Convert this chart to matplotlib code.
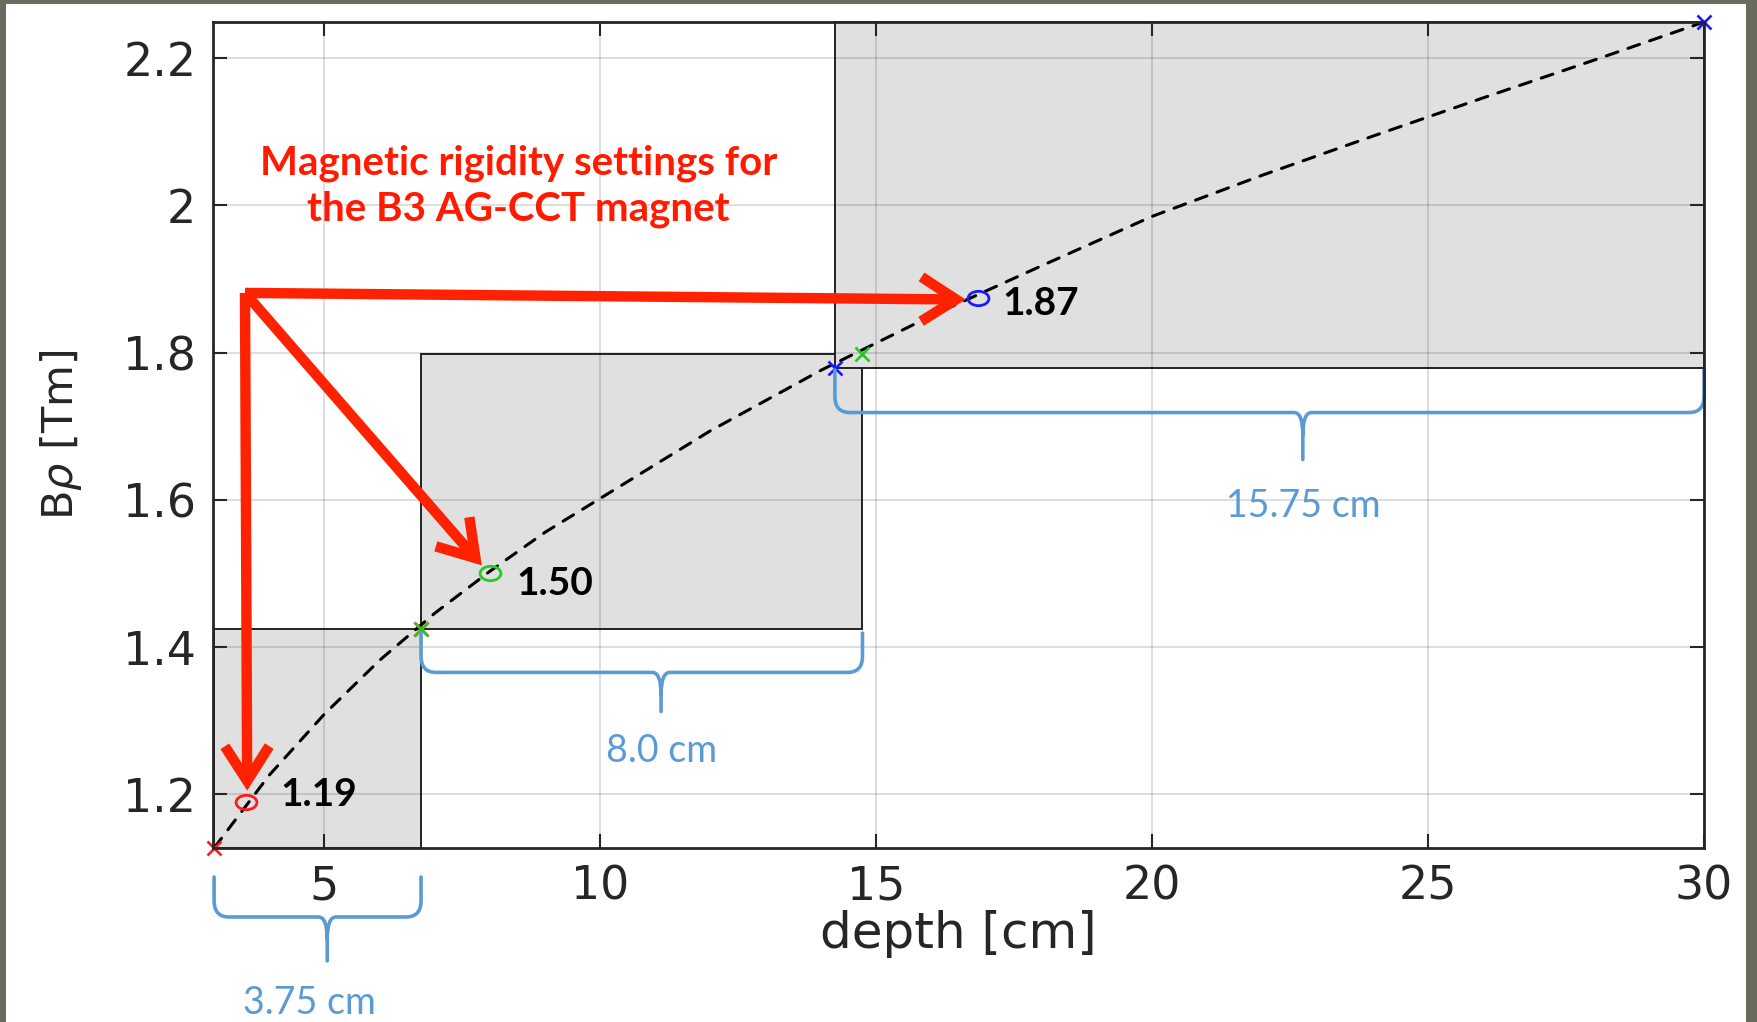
import matplotlib
matplotlib.use("Agg")
import matplotlib.pyplot as plt
from matplotlib.patches import Rectangle, PathPatch
from matplotlib.path import Path
from matplotlib.markers import MarkerStyle
from matplotlib.transforms import Affine2D

# ---------------- data ----------------
depth = [3, 4, 5, 6, 7, 8, 9, 10, 12, 14, 16, 18, 20, 22, 24, 26, 28, 30]
brho = [1.127, 1.226, 1.309, 1.382, 1.446, 1.503, 1.556, 1.602, 1.694, 1.776,
        1.850, 1.918, 1.985, 2.041, 2.094, 2.146, 2.197, 2.249]

box_x0 = [3.0, 6.75, 14.25]
box_x1 = [6.75, 14.75, 30.0]
box_y0 = [1.127, 1.425, 1.779]
box_y1 = [1.425, 1.798, 2.249]
box_colors = ["#ff1a1a", "#22cc22", "#1a1aff"]
box_len_labels = ["3.75 cm", "8.0 cm", "15.75 cm"]

set_x = [3.57, 8.0, 16.85]
set_y = [1.19, 1.50, 1.874]
set_labels = ["1.19", "1.50", "1.87"]
set_label_off = [(25, 5), (19, -7), (17, -4)]

arrow_origin = (3.56, 1.881)
arrow_end_x = [3.60, 7.85, 16.62]
arrow_end_y = [1.205, 1.511, 1.872]

brace_tip_x = [5.05, 11.10, 22.73]
brace_top = [1.0876, 1.4189, 1.7762]
brace_mid = [1.0333, 1.3655, 1.7185]
brace_tip = [0.9736, 1.3123, 1.6546]
brace_label_x = [4.72, 11.10, 22.73]
brace_label_y = [0.917, 1.259, 1.591]

xticks = [5, 10, 15, 20, 25, 30]
yticks = [1.2, 1.4, 1.6, 1.8, 2.0, 2.2]
yticklabels = ["1.2", "1.4", "1.6", "1.8", "2", "2.2"]

title_text = "Magnetic rigidity settings for\nthe B3 AG-CCT magnet"

# ---------------- figure ----------------
W, H = 1757, 1022
fig = plt.figure(figsize=(W / 100, H / 100), dpi=100)
fig.patch.set_facecolor("#6a6b5e")
fig.add_artist(Rectangle((6 / W, 0), (1746 - 6) / W, 1018 / H,
                         transform=fig.transFigure, facecolor="white",
                         edgecolor="none", zorder=-10))

ax = fig.add_axes([213 / W, 174 / H, (1704 - 213) / W, (1000 - 174) / H])
ax.set_facecolor("white")
ax.set_xlim(2.98, 30)
ax.set_ylim(1.127, 2.249)

# grey boxes
for x0, x1, y0, y1 in zip(box_x0, box_x1, box_y0, box_y1):
    ax.add_patch(Rectangle((x0, y0), x1 - x0, y1 - y0, facecolor="#e0e0e0",
                           edgecolor="#222222", lw=1.4, zorder=1, clip_on=False))

ax.set_axisbelow(False)
ax.grid(True, color="k", alpha=0.14, lw=1.3, zorder=2)

# curve
ax.plot(depth, brho, ls=(0, (4, 3.5)), color="k", lw=2.2, zorder=3,
        dash_capstyle="round")

# range edge markers
for x0, x1, y0, y1, c in zip(box_x0, box_x1, box_y0, box_y1, box_colors):
    ax.plot([x0, x1], [y0, y1], ls="none", marker="x", ms=10, mew=1.9,
            color=c, zorder=5, clip_on=False)

# elliptical circle markers
ell = MarkerStyle(Path.unit_circle().transformed(Affine2D().scale(1.45, 1.0)))
for x, y, c in zip(set_x, set_y, box_colors):
    ax.plot([x], [y], ls="none", marker=ell, ms=15, mfc="none", mec=c,
            mew=2.0, zorder=6)

# value labels
for x, y, lab, off in zip(set_x, set_y, set_labels, set_label_off):
    ax.annotate(lab, (x, y), xytext=off, textcoords="offset points",
                ha="left", va="center", fontsize=28, fontweight="bold",
                family="Lato", color="black", zorder=7)

# red arrows
for ex, ey in zip(arrow_end_x, arrow_end_y):
    ax.annotate("", xy=(ex, ey), xytext=arrow_origin,
                arrowprops=dict(arrowstyle="->,head_length=1.25,head_width=0.8",
                                mutation_scale=20, color="#ff2200", lw=7.5,
                                shrinkA=0, shrinkB=0, joinstyle="miter",
                                capstyle="butt"),
                zorder=8)

# title text
ax.text(8.52, 2.026, title_text, ha="center", va="center", color="#ff1a00",
        fontsize=29, fontweight="bold", family="Lato", linespacing=1.28,
        zorder=9)

# braces
brace_color = "#5b9bd5"
rx, ry = 0.27, 0.022
cx, cy = 0.16, 0.03
for x0, x1, xc, yt, ym, yp, lx, ly, lab in zip(
        box_x0, box_x1, brace_tip_x, brace_top, brace_mid, brace_tip,
        brace_label_x, brace_label_y, box_len_labels):
    verts = [(x0, yt), (x0, ym + ry), (x0, ym), (x0 + rx, ym),
             (xc - cx, ym), (xc, ym), (xc, ym - cy), (xc, yp),
             (xc, ym - cy), (xc, ym), (xc + cx, ym),
             (x1 - rx, ym), (x1, ym), (x1, ym + ry), (x1, yt)]
    codes = [Path.MOVETO, Path.LINETO, Path.CURVE3, Path.CURVE3,
             Path.LINETO, Path.CURVE3, Path.CURVE3, Path.LINETO,
             Path.MOVETO, Path.CURVE3, Path.CURVE3,
             Path.LINETO, Path.CURVE3, Path.CURVE3, Path.LINETO]
    ax.add_patch(PathPatch(Path(verts, codes), facecolor="none",
                           edgecolor=brace_color, lw=2.6, clip_on=False,
                           zorder=9, capstyle="round", joinstyle="round"))
    ax.text(lx, ly, lab, ha="center", va="center", color=brace_color,
            fontsize=27, family="Lato", clip_on=False, zorder=9)

# axes styling
for s in ax.spines.values():
    s.set_linewidth(2.0)
    s.set_color("#262626")
    s.set_zorder(10)
ax.set_xticks(xticks)
ax.set_yticks(yticks)
ax.set_yticklabels(yticklabels)
ax.tick_params(direction="in", length=10, width=1.5, top=True, right=True,
               labelsize=33, colors="#262626", pad=12)
for t in ax.get_xticklabels() + ax.get_yticklabels():
    t.set_family("DejaVu Sans")
ax.set_xlabel("depth [cm]", fontsize=36, family="DejaVu Sans",
              color="#262626", labelpad=0)
ax.set_ylabel(r"B$\rho$ [Tm]", fontsize=31, family="DejaVu Sans",
              color="#262626", labelpad=28)

fig.savefig("out.png", dpi=100, facecolor=fig.get_facecolor())
